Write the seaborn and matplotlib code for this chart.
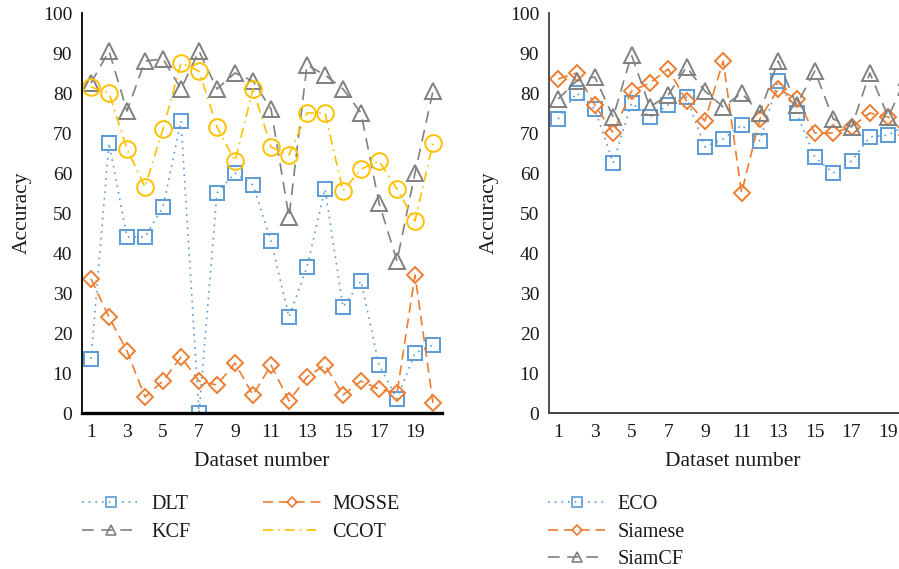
import matplotlib
matplotlib.use("Agg")
import matplotlib.pyplot as plt
from matplotlib.lines import Line2D
import seaborn as sns
import pandas as pd

# ---------------- data ----------------
datasets = list(range(1, 21))

dlt = [13.5, 67.5, 44, 44, 51.5, 73, 0, 55, 60, 57, 43, 24, 36.5, 56, 26.5, 33, 12, 3.5, 15, 17]
mosse = [33.5, 24, 15.5, 4, 8, 14, 8, 7, 12.5, 4.5, 12, 3, 9, 12, 4.5, 8, 6, 5, 34.5, 2.5]
kcf = [82.5, 90.5, 75.5, 88, 88.5, 81, 90.5, 81, 85, 83, 76, 49, 87, 84.5, 81, 75, 52.5, 38, 60, 80.5]
ccot = [81.5, 80, 66, 56.5, 71, 87.5, 85.5, 71.5, 63, 81, 66.5, 64.5, 75, 75, 55.5, 61, 63, 56, 48, 67.5]

eco = [73.5, 80, 76, 62.5, 77.5, 74, 77, 79, 66.5, 68.5, 72, 68, 83, 75, 64, 60, 63, 69, 69.5, 72]
siamese = [83.5, 85, 77, 70, 80.5, 82.5, 86, 78, 73, 88, 55, 73.5, 81, 78.5, 70, 70, 71.5, 75, 74, 69.5]
siamcf = [78.5, 83, 84, 74, 89.5, 76.5, 79.5, 86.5, 80.5, 76.5, 80, 75, 88, 77, 85.5, 73.5, 71.5, 85, 74, 84]

xtick_labels = [1, 3, 5, 7, 9, 11, 13, 15, 17, 19]
ytick_labels = list(range(0, 101, 10))

# ---------------- style ----------------
sns.set_theme(style="white")
plt.rcParams['font.family'] = ['Liberation Serif', 'DejaVu Serif']

BLUE = "#5B9BD5"
ORANGE = "#ED7D31"
GRAY = "#808080"
GOLD = "#FFC000"

styles = {
    "DLT": dict(color=BLUE, marker="s", ms=10, ls=(0, (1, 3))),
    "MOSSE": dict(color=ORANGE, marker="D", ms=8, ls=(0, (6, 3.5))),
    "KCF": dict(color=GRAY, marker="^", ms=11, ls=(0, (7, 4.5))),
    "CCOT": dict(color=GOLD, marker="o", ms=12, ls=(0, (6, 3, 1, 3))),
    "ECO": dict(color=BLUE, marker="s", ms=10, ls=(0, (1, 3))),
    "Siamese": dict(color=ORANGE, marker="D", ms=8, ls=(0, (6, 3.5))),
    "SiamCF": dict(color=GRAY, marker="^", ms=11, ls=(0, (7, 4.5))),
}

fig = plt.figure(figsize=(8.99, 5.69), dpi=100)
ax1 = fig.add_axes([82 / 899, 156 / 569, 360 / 899, 400 / 569])
ax2 = fig.add_axes([549 / 899, 156 / 569, 366.7 / 899, 400 / 569])


def draw(ax, name, values):
    st = styles[name]
    df = pd.DataFrame({"Dataset number": datasets, "Accuracy": values})
    sns.lineplot(data=df, x="Dataset number", y="Accuracy", ax=ax,
                 color=st["color"], linestyle=st["ls"], linewidth=1.2,
                 marker=st["marker"], markersize=st["ms"],
                 markerfacecolor="none", markeredgecolor=st["color"],
                 markeredgewidth=1.4, legend=False)


for name, vals in [("DLT", dlt), ("MOSSE", mosse), ("KCF", kcf), ("CCOT", ccot)]:
    draw(ax1, name, vals)
for name, vals in [("ECO", eco), ("Siamese", siamese), ("SiamCF", siamcf)]:
    draw(ax2, name, vals)

for ax in (ax1, ax2):
    ax.set_xlim(0.5, 20.5)
    ax.set_ylim(0, 100)
    ax.set_xticks(xtick_labels)
    ax.set_xticklabels([str(v) for v in xtick_labels])
    ax.set_yticks(ytick_labels)
    ax.set_yticklabels([str(v) for v in ytick_labels])
    ax.tick_params(axis="both", length=0, labelsize=14, colors="#1a1a1a")
    ax.tick_params(axis="y", pad=7)
    ax.tick_params(axis="x", pad=8)
    ax.set_xlabel("Dataset number", fontsize=15.5, color="#1a1a1a", labelpad=8)
    ax.set_ylabel("Accuracy", fontsize=15.5, color="#1a1a1a", labelpad=8)
    ax.spines["top"].set_visible(False)
    ax.spines["right"].set_visible(False)
    ax.grid(False)
    ax.set_facecolor("none")

ax1.spines["left"].set_color("black")
ax1.spines["left"].set_linewidth(1.3)
ax1.spines["bottom"].set_color("black")
ax1.spines["bottom"].set_linewidth(2.4)
ax2.spines["left"].set_color("#404040")
ax2.spines["left"].set_linewidth(1.3)
ax2.spines["bottom"].set_color("#404040")
ax2.spines["bottom"].set_linewidth(1.4)


def handle(name, show_marker=True):
    st = styles[name]
    return Line2D([], [], color=st["color"], linestyle=st["ls"], linewidth=1.2,
                  marker=st["marker"] if show_marker else None,
                  markersize=st["ms"] * 0.7, markerfacecolor="none",
                  markeredgecolor=st["color"], markeredgewidth=1.2)


leg_kw = dict(frameon=False, fontsize=14.5, handlelength=2.85, handletextpad=0.6,
              borderpad=0, borderaxespad=0, labelspacing=0.42, numpoints=1,
              labelcolor="#1a1a1a")

fig.legend([handle("DLT"), handle("KCF"), handle("MOSSE"), handle("CCOT", False)],
           ["DLT", "KCF", "MOSSE", "CCOT"], ncol=2, columnspacing=3.6,
           loc="upper left", bbox_to_anchor=(82 / 899, 1 - 495 / 569), **leg_kw)
fig.legend([handle("ECO"), handle("Siamese"), handle("SiamCF")],
           ["ECO", "Siamese", "SiamCF"], ncol=1,
           loc="upper left", bbox_to_anchor=(548 / 899, 1 - 495 / 569), **leg_kw)

fig.savefig("out.png", dpi=100)
